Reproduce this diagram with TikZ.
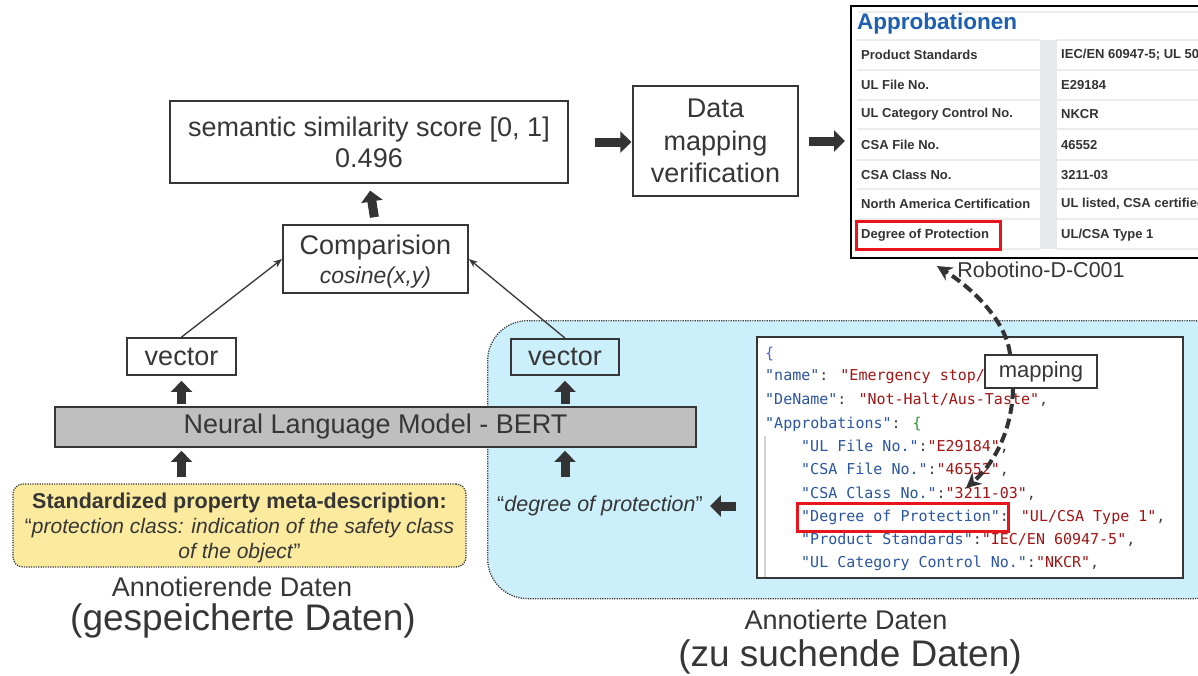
\documentclass[tikz,border=0pt]{standalone}
\usepackage{fontspec}
\setmainfont{Liberation Sans}
\newfontfamily\jsonfont{DejaVu Sans Mono}
\usetikzlibrary{arrows.meta,calc}

\definecolor{ink}{HTML}{363636}
\definecolor{arrowc}{HTML}{333333}
\definecolor{barfill}{HTML}{BFBFBF}
\definecolor{zonefill}{HTML}{CCEFFC}
\definecolor{notefill}{HTML}{FCEB9F}
\definecolor{redbox}{HTML}{E8141C}
\definecolor{apblue}{HTML}{1F5FB0}
\definecolor{tabtext}{HTML}{333333}
\definecolor{rowline}{HTML}{ECECEC}
\definecolor{gutter}{HTML}{E6E9EC}
\definecolor{keyc}{HTML}{2A55A0}
\definecolor{valc}{HTML}{A31515}
\definecolor{bracea}{HTML}{4A62D8}
\definecolor{braceb}{HTML}{319331}

\newcommand{\fsz}[2]{\fontsize{#1}{#2}\selectfont}
\newcommand{\jk}[1]{\textcolor{keyc}{"#1"}}
\newcommand{\jv}[1]{\textcolor{valc}{"#1"}}

\tikzset{
  box/.style={draw=ink, line width=1.3pt, align=center, inner sep=0pt, text=ink},
  boldbox/.style={box, line width=1.8pt},
  blockarrow/.style={line width=9pt, draw=arrowc, -{Triangle[length=11pt,width=21pt]}},
  linkarrow/.style={line width=1.3pt, draw=ink, -{Stealth[length=9pt,width=7pt]}},
  dasharrow/.style={line width=4pt, draw=arrowc, dash pattern=on 10pt off 5pt,
    -{Stealth[length=15pt,width=15pt]}},
  caption/.style={text=ink, inner sep=0pt, align=center},
  tabkey/.style={anchor=west, inner sep=0pt, text=tabtext, font=\bfseries\fsz{13}{15}},
  tabval/.style={anchor=west, inner sep=0pt, text=tabtext, font=\bfseries\fsz{13}{15}},
  jline/.style={anchor=west, inner sep=0pt, font=\jsonfont\fsz{15}{18}, text=black!75},
  hl/.style={draw=redbox, line width=3pt, inner sep=0pt},
}

\begin{document}
\begin{tikzpicture}[x=1pt, y=-1pt]
\useasboundingbox (0,0) rectangle (1198,675);
\clip (0,0) rectangle (1198,675);

% background zone of the annotated data
\node[draw=ink, line width=1.3pt, dash pattern=on 1.2pt off 1.2pt, fill=zonefill,
      rounded corners=40pt, minimum width=745pt, minimum height=278pt,
      anchor=north west, inner sep=0pt] (zone) at (487,320) {};

% similarity pipeline
\node[box, minimum width=398pt, minimum height=82pt, font=\fsz{27}{31}] (score) at (369,142)
  {semantic similarity score [0, 1]\\0.496};
\node[box, minimum width=165pt, minimum height=110pt, text depth=0pt, font=\fsz{27}{32.5}] (verify) at (715.5,141)
  {Data\\mapping\\verification};
\node[boldbox, minimum width=185pt, minimum height=68pt, text depth=0pt, font=\fsz{27}{29}] (cmp) at (375.5,259)
  {Comparision\\{\fsz{23}{29}\itshape cosine(x,y)}};
\node[boldbox, minimum width=109pt, minimum height=37pt, font=\fsz{27}{30}] (vecL) at (181.5,356.5) {vector};
\node[boldbox, minimum width=108pt, minimum height=36pt, font=\fsz{27}{30}] (vecR) at (565,357) {vector};
\node[boldbox, fill=barfill, minimum width=641pt, minimum height=40pt, font=\fsz{27}{30}] (bert) at (375.5,427)
  {Neural Language Model - BERT};

% stored annotation
\node[draw=ink, line width=1.3pt, dash pattern=on 1.2pt off 1.2pt, fill=notefill,
      rounded corners=10pt, minimum width=453pt, minimum height=83pt, inner sep=0pt,
      text depth=0pt, align=center, text=ink, font=\fsz{21}{25}] (note) at (239.5,525.5)
  {{\bfseries\fsz{21.5}{25}Standardized property meta-description:}\\
   “\textit{protection class: indication of the safety class}\\
   \textit{of the object}”};
\node[caption, font=\fsz{27}{31}] (capA1) at (232,587) {Annotierende Daten};
\node[caption, font=\fsz{37}{40}] (capA2) at (243,621) {(gespeicherte Daten)};

% searched data
\node[caption, font=\fsz{21.5}{25}] (deg) at (600,506) {“\textit{degree of protection}”};
\node[caption, font=\fsz{27}{31}] (capB1) at (846,620) {Annotierte Daten};
\node[caption, font=\fsz{37}{40}] (capB2) at (850,657) {(zu suchende Daten)};

% JSON record
\node[draw=ink, line width=1.5pt, fill=white, minimum width=426pt, minimum height=241pt,
      inner sep=0pt] (json) at (970,457.5) {};
\draw[black!18, line width=1.5pt] (765,436) -- (765,577);
\node[jline] (j0) at (765,354) {\textcolor{bracea}{\{}};
\node[jline] (j1) at (765,377) {\jk{name}: \textcolor{valc}{"Emergency stop/}};
\node[jline] (j2) at (765,400) {\jk{DeName}: \jv{Not-Halt/Aus-Taste},};
\node[jline] (j3) at (765,424) {\jk{Approbations}: \textcolor{braceb}{\{}};
\node[jline] (j4) at (801,447) {\jk{UL File No.}:\jv{E29184},};
\node[jline] (j5) at (801,470) {\jk{CSA File No.}:\jv{46552},};
\node[jline] (j6) at (801,494) {\jk{CSA Class No.}:\jv{3211-03},};
\node[jline] (j7) at (801,517) {\jk{Degree of Protection}: \jv{UL/CSA Type 1},};
\node[jline] (j8) at (801,540) {\jk{Product Standards}:\jv{IEC/EN 60947-5},};
\node[jline] (j9) at (801,563) {\jk{UL Category Control No.}:\jv{NKCR},};
\node[hl, minimum width=211pt, minimum height=28pt] (jhl) at (902.5,517) {};

% product data sheet
\node[draw=black, line width=2pt, fill=white, minimum width=380pt, minimum height=252pt,
      anchor=north west, inner sep=0pt] (tab) at (850,5) {};
\draw[rowline, line width=2pt] (858,12) -- (1198,12);
\node[anchor=west, inner sep=0pt, text=apblue, font=\bfseries\fsz{22.5}{24}] (tabtitle) at (857,24) {Approbationen};
\fill[gutter] (1040,40) rectangle (1057,249);
\foreach \yy in {40,70,100,129,160,189,219,249}
  \draw[rowline, line width=1.5pt] (857,\yy) -- (1040,\yy) (1057,\yy) -- (1198,\yy);
\node[tabkey] (k1) at (861,55)  {Product Standards};
\node[tabkey] (k2) at (861,85)  {UL File No.};
\node[tabkey] (k3) at (861,114) {UL Category Control No.};
\node[tabkey] (k4) at (861,145) {CSA File No.};
\node[tabkey] (k5) at (861,175) {CSA Class No.};
\node[tabkey] (k6) at (861,204) {North America Certification};
\node[tabkey] (k7) at (861,235) {Degree of Protection};
\node[tabval] (v1) at (1061,55)  {IEC/EN 60947-5; UL 508};
\node[tabval] (v2) at (1061,85)  {E29184};
\node[tabval] (v3) at (1061,114) {NKCR};
\node[tabval] (v4) at (1061,145) {46552};
\node[tabval] (v5) at (1061,175) {3211-03};
\node[tabval] (v6) at (1061,204) {UL listed, CSA certified};
\node[tabval] (v7) at (1061,235) {UL/CSA Type 1};
\node[hl, minimum width=144pt, minimum height=28pt] (thl) at (928,235) {};
\node[caption, font=\fsz{21.5}{25}] (rob) at (1041,270) {Robotino-D-C001};

% flow arrows
\draw[blockarrow, shorten <=7pt, shorten >=7pt] (cmp.north) -- (score.south);
\draw[blockarrow, shorten <=26pt, shorten >=1pt] (score.east) -- (score.east -| verify.west);
\draw[blockarrow, shorten <=10pt, shorten >=5pt] (verify.east) -- (verify.east -| tab.west);
\draw[blockarrow, shorten <=2pt, shorten >=5pt] (vecL.south |- bert.north) -- (vecL.south);
\draw[blockarrow, shorten <=2pt, shorten >=5pt] (vecR.south |- bert.north) -- (vecR.south);
\draw[blockarrow, shorten <=6pt, shorten >=3pt] (vecL.south |- note.north) -- (vecL.south |- bert.south);
\draw[blockarrow, shorten <=6pt, shorten >=3pt] (vecR.south |- note.north) -- (vecR.south |- bert.south);
\draw[blockarrow, shorten <=20pt, shorten >=7pt] (json.west |- deg.east) -- (deg.east);
\draw[linkarrow] (vecL.north) -- (cmp.west);
\draw[linkarrow] (vecR.north) -- (cmp.east);

% mapping between data sheet and JSON record
\node[draw=ink, line width=2pt, fill=white, minimum width=112pt, minimum height=33pt,
      inner sep=0pt, text=ink, font=\fsz{22}{26}] (mapnode) at (1041,371.5) {mapping};
\coordinate (mapTop) at (937,266);
\coordinate (mapBot) at (966,488);
\draw[dasharrow] ([xshift=-31pt]mapnode.north) .. controls (1006,322) and (975,290) .. (mapTop);
\draw[dasharrow] ([xshift=-28pt]mapnode.south) .. controls (1012,428) and (996,462) .. (mapBot);
\end{tikzpicture}
\end{document}
